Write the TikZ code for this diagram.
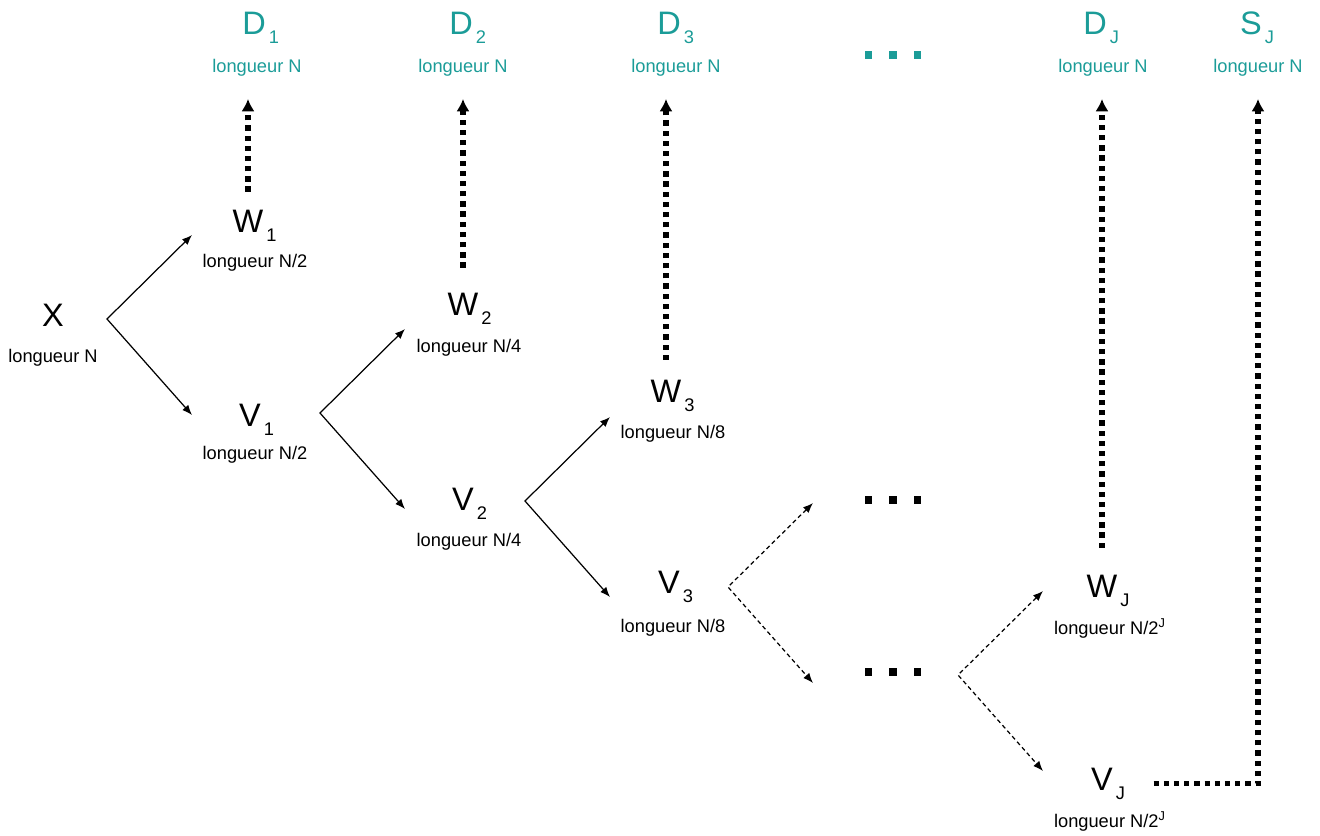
\documentclass[tikz,border=0pt]{standalone}
\usepackage{fontspec}
\setmainfont{Liberation Sans}
\usepackage{xcolor}
\usetikzlibrary{arrows.meta,positioning}
\definecolor{canard}{HTML}{1B9C98}

\newcommand{\indice}[1]{\rlap{\raisebox{-5.5pt}{\fontsize{10.4}{12}\selectfont\,#1}}}
\newcommand{\pts}{\rule{4pt}{4pt}\hspace{10.2pt}\rule{4pt}{4pt}\hspace{10.2pt}\rule{4pt}{4pt}}

\begin{document}
\begin{tikzpicture}[x=0.02cm,y=-0.02cm,
  lettre/.style={font=\fontsize{18.5}{19}\selectfont,inner sep=3pt,anchor=base},
  lg/.style={font=\fontsize{10.4}{12}\selectfont,inner sep=2pt,anchor=base},
  pointe/.tip={Latex[length=5.7pt,width=4.5pt]},
  fl/.style={pointe-pointe,line width=0.7pt},
  fld/.style={fl,dash pattern=on 2.4pt off 1.8pt},
  pointill/.style={-{Latex[length=7pt,width=7.5pt]},line width=3pt,dash pattern=on 3pt off 2.8pt,shorten >=11pt}]
\useasboundingbox (0,0) rectangle (1320,836);

% signaux et longueurs
\foreach \nm/\xx/\yy/\ltr/\sb/\lx/\ly/\len in {x/53/326/X//53/362/{N},
  w1/248/232/W/1/255/267/{N/2}, v1/250/426/V/1/255/459/{N/2},
  w2/463/315/W/2/469/352/{N/4}, v2/463/510/V/2/469/546/{N/4},
  w3/666/402/W/3/673/438/{N/8}, v3/669/593/V/3/673/632/{N/8},
  wj/1102/597/W/J/1110/634/{N/2\textsuperscript{J}}, vj/1102/790/V/J/1110/827/{N/2\textsuperscript{J}}}{
  \node[lettre] (\nm) at (\xx,\yy) {\ltr\indice{\sb}};
  \node[lg] (\nm l) at (\lx,\ly) {longueur \len};
}

% sorties
\foreach \nm/\xx/\ltr/\sb/\lx in {d1/254/D/1/257, d2/461/D/2/463, d3/669/D/3/676, dj/1095/D/J/1103, sj/1251/S/J/1258}{
  \node[lettre,text=canard] (\nm) at (\xx,34) {\ltr\indice{\sb}};
  \node[lg,text=canard] (\nm l) at (\lx,72) {longueur N};
}

\node[text=canard] (ptop) at (893,55) {\pts};
\node (pm) at (893,500) {\pts};
\node (pb) at (893,672) {\pts};

% decompositions
\foreach \f/\xx/\yy/\st in {fx/107/319/fl, fv1/320/413/fl, fv2/525/501/fl, fv3/728/587/fld, fpb/958/675/fld}{
  \coordinate (\f) at (\xx,\yy);
  \path (\f) ++(85,-84) coordinate (\f-h) (\f) ++(85,96) coordinate (\f-b);
  \draw[\st] (\f-h) -- (\f) -- (\f-b);
}

\foreach \a/\b/\s in {w1/d1l/7pt, w2/d2l/11pt, w3/d3l/8pt, wj/djl/12pt}
  \draw[pointill,shorten <=\s] (\a) -- (\a |- \b.south);
\draw[pointill,shorten <=20pt] (vj.east) -| (sjl.south);
\end{tikzpicture}
\end{document}
